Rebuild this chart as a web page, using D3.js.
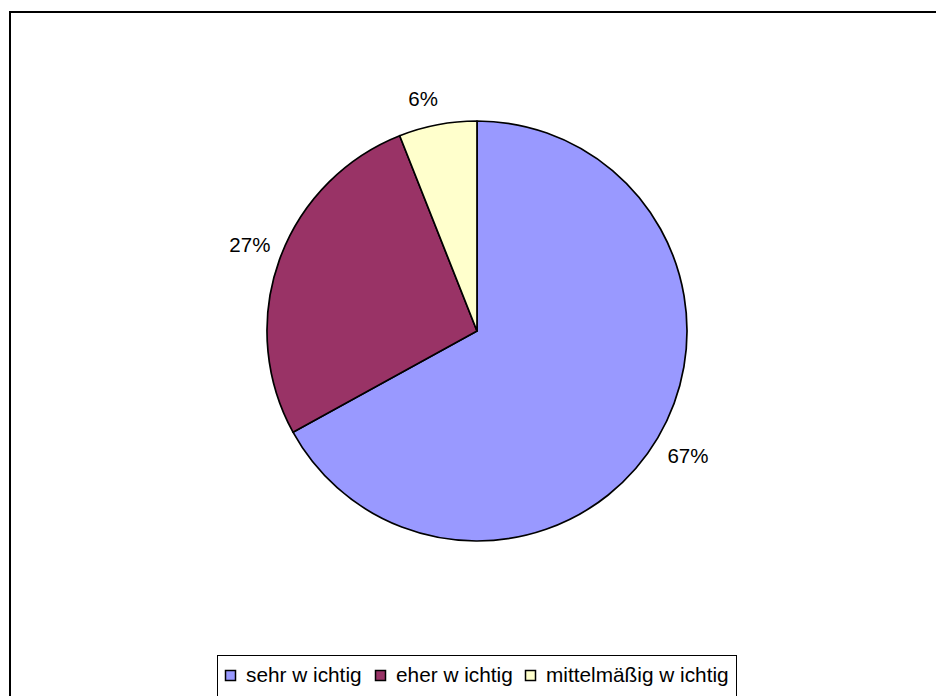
<!DOCTYPE html>
<html><head><meta charset="utf-8">
<script src="https://cdn.jsdelivr.net/npm/d3@7"></script>
<style>body{margin:0;background:#fff}svg{display:block}</style>
</head><body>
<svg id="c" width="936" height="696"></svg>
<script>
const categories = ["sehr w ichtig", "eher w ichtig", "mittelmäßig w ichtig"];
const values = [67, 27, 6];
const labels = ["67%", "27%", "6%"];
const colors = ["#9999FF", "#993366", "#FFFFCC"];

const svg = d3.select("#c");
const font = "'Liberation Sans', Arial, sans-serif";

// chart border
svg.append("rect").attr("x", 10).attr("y", 12).attr("width", 940).attr("height", 700)
  .attr("fill", "#fff").attr("stroke", "#000").attr("stroke-width", 2);

const cx = 477, cy = 331, r = 210;
const pie = d3.pie().sort(null).value(d => d.v);
const arcs = pie(categories.map((c, i) => ({c, v: values[i], i})));
const arc = d3.arc().innerRadius(0).outerRadius(r);
const g = svg.append("g").attr("transform", `translate(${cx},${cy})`);
g.selectAll("path").data(arcs).join("path")
  .attr("d", arc).attr("fill", d => colors[d.data.i])
  .attr("stroke", "#000").attr("stroke-width", 1.7).attr("stroke-linejoin", "round");

const labelArc = d3.arc().innerRadius(r + 24).outerRadius(r + 24);
const offs = [[9.5, 5.5], [-7, -7.5], [-10, -2.5]];
g.selectAll("text").data(arcs).join("text")
  .attr("x", d => labelArc.centroid(d)[0] + offs[d.data.i][0])
  .attr("y", d => labelArc.centroid(d)[1] + offs[d.data.i][1])
  .attr("text-anchor", "middle").attr("dominant-baseline", "central")
  .attr("font-family", font).attr("font-size", 20.5).attr("fill", "#000")
  .text(d => labels[d.data.i]);

// legend
const lg = svg.append("g");
lg.append("rect").attr("x", 217.5).attr("y", 655.5).attr("width", 519).attr("height", 50)
  .attr("fill", "#fff").attr("stroke", "#000").attr("stroke-width", 1);
const lx = [225, 375, 525];
categories.forEach((c, i) => {
  lg.append("rect").attr("x", lx[i] + 0.5).attr("y", 670.5).attr("width", 10).attr("height", 10)
    .attr("fill", colors[i]).attr("stroke", "#000").attr("stroke-width", 1.5);
  lg.append("text").attr("x", lx[i] + 21).attr("y", 682)
    .attr("font-family", font).attr("font-size", 20.8).attr("fill", "#000").text(c);
});
</script>
</body></html>
